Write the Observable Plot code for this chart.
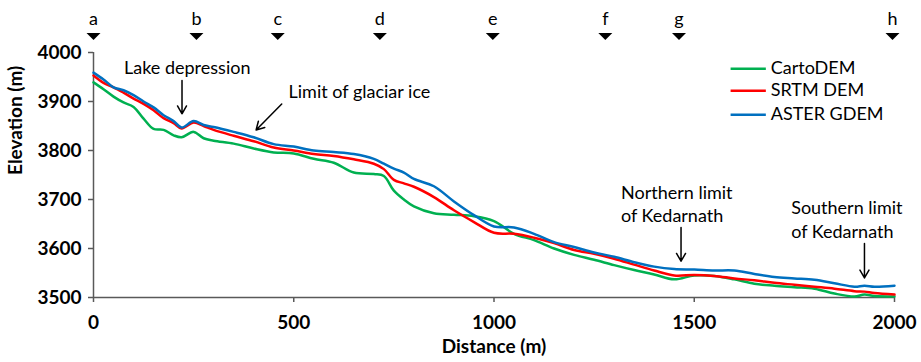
<!DOCTYPE html>
<html>
<head>
<meta charset="utf-8">
<script src="https://cdn.jsdelivr.net/npm/d3@7"></script>
<script src="https://cdn.jsdelivr.net/npm/@observablehq/plot@0.6"></script>
<style>
  html, body { margin: 0; padding: 0; background: #fff; }
  #chart { width: 921px; height: 362px; }
</style>
</head>
<body>
<div id="chart"></div>
<script>
// ---- data ----
const dist   = [0,25,50,75,100,125,150,175,200,220,250,275,300,350,400,450,500,550,600,650,700,725,750,775,800,850,900,950,1000,1050,1100,1150,1200,1250,1300,1350,1400,1450,1500,1550,1600,1650,1700,1750,1800,1850,1900,1925,1950,2000];
const carto  = [3939,3925,3910,3898,3889,3865,3844,3842,3831,3827,3838,3825,3820,3814,3804,3796,3794,3783,3775,3755,3752,3748,3718,3700,3686,3672,3669,3666,3656,3630,3617,3600,3587,3577,3566,3556,3547,3537,3545,3544,3537,3528,3524,3521,3518,3508,3502,3506,3503,3502];
const srtm   = [3953,3938,3929,3918,3906,3895,3882,3866,3856,3845,3857,3850,3842,3830,3819,3806,3800,3793,3789,3782,3773,3762,3740,3733,3726,3705,3678,3654,3632,3630,3622,3611,3597,3589,3579,3567,3555,3545,3546,3544,3539,3535,3530,3526,3522,3518,3513,3512,3509,3506];
const aster  = [3959,3945,3929,3923,3913,3900,3888,3872,3860,3847,3860,3852,3848,3838,3827,3813,3808,3800,3797,3793,3783,3773,3763,3755,3742,3727,3696,3668,3645,3643,3630,3613,3603,3592,3583,3572,3563,3558,3557,3555,3555,3548,3542,3539,3536,3529,3522,3524,3522,3524];
const seriesNames  = ["CartoDEM", "SRTM DEM", "ASTER GDEM"];
const xTicks = [0, 500, 1000, 1500, 2000];
const yTicks = [3500, 3600, 3700, 3800, 3900, 4000];
const markerLabels = ["a","b","c","d","e","f","g","h"];
const markerDist   = [0, 257, 460, 715, 997, 1278, 1462, 1995];
const annoText = ["Lake depression", "Limit of glaciar ice", "Northern limit\nof Kedarnath", "Southern limit\nof Kedarnath"];
const annoX    = [234, 487, 1317, 1742];
const annoY    = [3967, 3922, 3693, 3661];
const arrowX1  = [221, 470, 1467, 1925];
const arrowY1  = [3943, 3895, 3643, 3610];
const arrowX2  = [221, 406, 1467, 1925];
const arrowY2  = [3875, 3842, 3574, 3540];

// ---- build tables ----
const values = [carto, srtm, aster];
const rows = seriesNames.flatMap((s, k) => dist.map((d, i) => ({d, e: values[k][i], s})));
const markers = markerLabels.map((label, i) => ({label, d: markerDist[i]}));
const annos = annoText.map((t, i) => ({t, x: annoX[i], y: annoY[i]}));
const arrows = arrowX1.map((x1, i) => ({x1, y1: arrowY1[i], x2: arrowX2[i], y2: arrowY2[i]}));
const legendY = [3967, 3922, 3873];
const legend = seriesNames.map((s, i) => ({s, y: legendY[i]}));

const colors = ["#00B050", "#FF0000", "#0070C0"];
const axisColor = "#595959";
const font = "Lato, 'Open Sans', sans-serif";

const flatTri = {
  draw(ctx) {
    ctx.moveTo(-7, -3.5);
    ctx.lineTo(7, -3.5);
    ctx.lineTo(0, 3.5);
    ctx.closePath();
  }
};

const chart = Plot.plot({
  width: 921,
  height: 362,
  marginLeft: 93,
  marginRight: 27,
  marginTop: 52,
  marginBottom: 65,
  style: {fontFamily: font, fontSize: "17px", color: "#000", background: "#fff", overflow: "visible"},
  x: {domain: [0, 2000]},
  y: {domain: [3500, 4000]},
  color: {domain: seriesNames, range: colors},
  marks: [
    Plot.axisY({ticks: yTicks, tickFormat: d => String(d), tickSize: 5, tickPadding: 7, fontWeight: "bold", fontSize: 19, stroke: axisColor, strokeWidth: 1.5, fill: "#000", label: null}),
    Plot.axisX({ticks: xTicks, tickFormat: d => String(d), tickSize: 5, tickPadding: 13, fontWeight: "bold", fontSize: 19, stroke: axisColor, strokeWidth: 1.5, fill: "#000", label: null}),
    Plot.ruleX([0], {stroke: axisColor, strokeWidth: 1.5}),
    Plot.ruleY([3500], {stroke: axisColor, strokeWidth: 1.5}),
    Plot.line(rows, {x: "d", y: "e", z: "s", stroke: "s", strokeWidth: 2.5, curve: "catmull-rom"}),
    // top markers
    Plot.dot(markers, {x: "d", y: () => 4000, dy: -16, symbol: flatTri, fill: "#000", stroke: null}),
    Plot.text(markers, {x: "d", y: () => 4000, dy: -33, text: "label", fontSize: 18, fill: "#000"}),
    // annotations
    Plot.text(annos.slice(0, 1), {x: "x", y: "y", text: "t", textAnchor: "middle", fontSize: 18, fill: "#000"}),
    Plot.text(annos.slice(1), {x: "x", y: "y", text: "t", textAnchor: "start", fontSize: 18, lineHeight: 1.3, fill: "#000"}),
    Plot.arrow(arrows, {x1: "x1", y1: "y1", x2: "x2", y2: "y2", stroke: "#000", strokeWidth: 1.5, headLength: 9}),
    // legend
    Plot.ruleY(legend, {y: "y", x1: 1592, x2: 1680, stroke: "s", strokeWidth: 2.5}),
    Plot.text(legend, {y: "y", x: 1691, text: "s", textAnchor: "start", fontSize: 18, fill: "#000"}),
    // axis titles
    Plot.text(["Elevation (m)"], {frameAnchor: "left", dx: -78, rotate: -90, text: d => d, fontWeight: "bold", fontSize: 19, fill: "#000"}),
    Plot.text(["Distance (m)"], {frameAnchor: "bottom", dy: 55, text: d => d, fontWeight: "bold", fontSize: 19, fill: "#000"})
  ]
});
document.getElementById("chart").appendChild(chart);
</script>
</body>
</html>
